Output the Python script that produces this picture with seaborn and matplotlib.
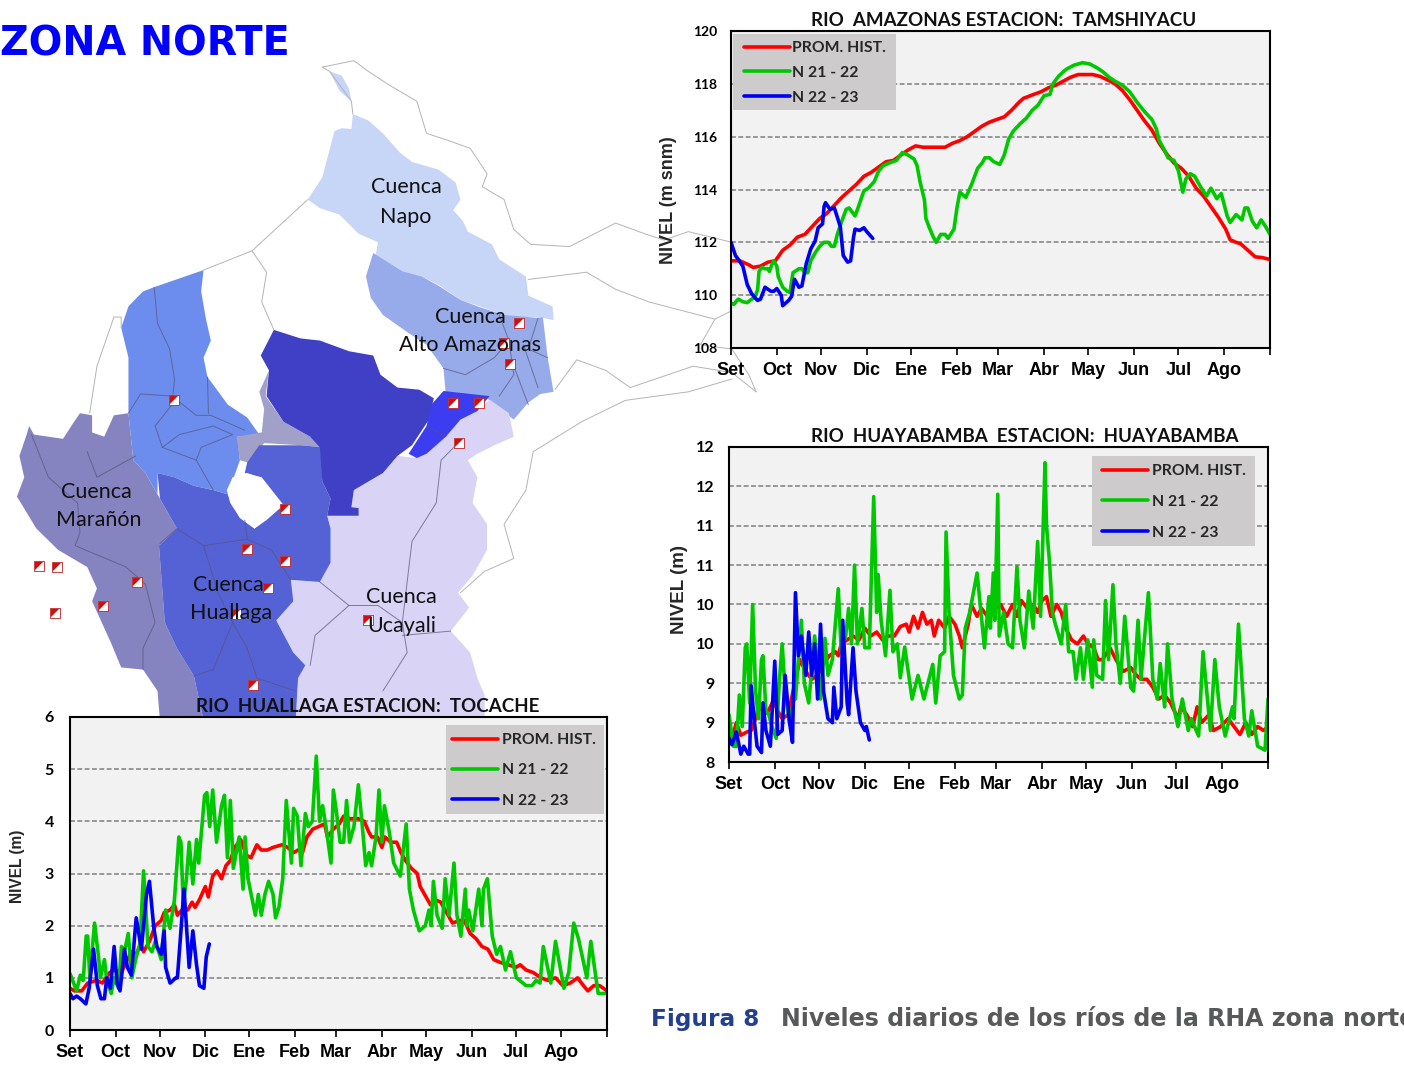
import matplotlib
matplotlib.use("Agg")
import matplotlib.pyplot as plt
from matplotlib.patches import Polygon, Rectangle
from matplotlib.lines import Line2D
import seaborn as sns

sns.set_style("white")
plt.rcParams['font.family'] = ['Liberation Sans', 'DejaVu Sans']

W, H = 1404, 1066
MONTH_LABELS = ['Set', 'Oct', 'Nov', 'Dic', 'Ene', 'Feb', 'Mar', 'Abr', 'May', 'Jun', 'Jul', 'Ago']
MONTH_DAYS = [0, 31, 61, 92, 122, 153, 181, 212, 242, 273, 303, 334, 365]
SERIES_NAMES = ['PROM. HIST.', 'N 21 - 22', 'N 22 - 23']
COLORS = ['#FF0000', '#00C800', '#0000F0']

# ---- Amazonas / Tamshiyacu
ama_red_d = [0,6,12,15,20,25,30,35,40,45,50,55,60,65,70,75,80,85,90,95,100,105,110,115,120,125,130,145,150,155,160,165,170,175,180,185,190,195,198,205,210,215,220,225,230,235,245,250,255,260,265,270,275,280,285,290,295,300,305,310,315,320,325,330,335,338,342,345,350,355,360,365]
ama_red_v = [111.3,111.3,111.15,111.05,111.1,111.25,111.3,111.7,111.9,112.2,112.3,112.6,112.9,113.1,113.4,113.7,113.95,114.2,114.5,114.65,114.85,115.05,115.1,115.3,115.5,115.65,115.6,115.6,115.75,115.85,116.0,116.2,116.4,116.55,116.65,116.75,117.0,117.3,117.45,117.6,117.7,117.85,117.95,118.1,118.25,118.35,118.35,118.28,118.15,118.0,117.75,117.4,117.0,116.6,116.25,115.75,115.35,115.0,114.8,114.5,114.05,113.75,113.35,112.95,112.5,112.1,112.0,111.95,111.7,111.45,111.42,111.35]
ama_grn_d = [0,2,4,5,8,11,14,16,18,19,21,23,25,26,28,29,31,32,35,38,40,41,42,46,48,50,52,54,57,60,63,66,68,70,72,75,78,80,84,86,90,93,97,100,103,107,112,116,120,124,126,128,131,132,134,137,139,142,145,147,151,153,155,157,159,163,167,170,172,175,178,182,185,188,191,196,200,204,208,212,216,218,222,227,232,238,243,248,252,256,260,265,270,275,280,285,288,290,293,296,300,303,306,308,311,314,318,322,325,329,332,336,338,342,346,348,350,353,356,359,362,365]
ama_grn_v = [109.7,109.65,109.8,109.85,109.75,109.72,109.85,109.9,110.2,110.9,111.05,111.0,111.0,110.9,111.2,111.3,111.1,110.7,110.3,110.15,110.1,110.5,110.85,111.0,111.0,110.85,110.85,111.3,111.6,111.85,112.0,112.0,111.85,111.85,112.3,112.8,113.25,113.3,113.0,113.3,113.95,114.05,114.3,114.7,114.9,115.0,115.1,115.4,115.3,115.15,114.9,114.3,113.6,112.9,112.6,112.2,112.0,112.3,112.3,112.15,112.5,113.3,113.9,113.8,113.7,114.2,114.8,115.0,115.2,115.2,115.05,114.95,115.3,115.9,116.2,116.5,116.7,117.0,117.2,117.55,117.6,118.0,118.3,118.55,118.7,118.8,118.75,118.6,118.45,118.25,118.1,117.95,117.7,117.3,116.95,116.65,116.3,115.85,115.55,115.2,115.1,114.7,113.9,114.4,114.6,114.5,114.1,113.75,114.05,113.65,113.85,113.0,112.75,113.05,112.85,113.3,113.3,112.8,112.55,112.85,112.6,112.3]
ama_blu_d = [0,3,5,8,11,14,18,20,23,27,29,31,34,35,39,41,43,46,48,51,54,57,59,62,63,64,67,70,74,76,79,81,83,84,87,90,92,96]
ama_blu_v = [112.0,111.5,111.35,111.1,110.4,110.05,109.8,109.85,110.3,110.15,110.15,110.25,110.0,109.6,109.8,109.95,110.6,110.3,110.35,111.2,111.75,112.05,112.55,112.7,113.35,113.5,113.25,113.3,112.6,111.5,111.25,111.3,112.2,112.5,112.45,112.55,112.4,112.15]

# ---- Huayabamba
hua_red_d = [0,2,5,8,12,15,18,20,23,26,30,33,36,40,44,48,52,56,60,64,68,72,74,76,80,84,88,92,96,100,104,108,112,116,120,122,125,128,131,134,137,139,142,146,149,153,156,158,162,164,168,171,175,180,184,188,192,195,198,202,206,209,212,215,218,222,225,228,232,236,240,243,247,250,253,258,262,267,272,276,279,283,287,291,295,299,304,306,310,314,317,320,325,328,333,338,342,346,350,354,358,362,365]
hua_red_v = [8.45,8.3,8.5,8.34,8.38,8.4,8.55,8.7,8.65,8.62,8.78,8.65,8.55,8.6,8.95,9.3,9.15,9.05,9.1,9.25,9.35,9.4,9.35,9.5,9.55,9.6,9.55,9.7,9.6,9.65,9.55,9.6,9.6,9.72,9.75,9.65,9.85,9.7,9.9,9.75,9.8,9.6,9.8,9.7,9.85,9.75,9.6,9.45,9.75,10.0,9.85,9.95,9.85,9.95,10.0,9.85,10.0,9.85,10.05,9.95,10.0,9.9,10.05,10.1,9.85,10.0,9.9,9.7,9.55,9.5,9.6,9.5,9.45,9.3,9.3,9.45,9.3,9.15,9.2,9.1,9.05,9.05,8.95,8.8,8.85,8.75,8.55,8.7,8.6,8.45,8.7,8.5,8.6,8.4,8.45,8.55,8.45,8.35,8.5,8.35,8.45,8.4,8.45]
hua_grn_d = [0,3,5,7,9,11,12,14,16,18,20,22,23,25,27,29,32,34,36,38,41,44,45,49,51,54,58,60,62,65,67,70,74,76,79,81,83,85,87,90,92,95,98,100,101,103,106,109,111,114,116,119,124,128,132,138,140,143,146,147,149,152,156,158,160,163,168,173,176,177,179,180,182,183,186,189,192,195,197,200,203,206,209,211,214,215,217,219,221,225,228,230,233,235,238,240,243,246,247,249,253,255,257,260,262,265,268,272,274,277,279,284,287,290,292,295,297,300,304,307,311,313,318,321,326,329,332,336,341,342,345,349,352,354,358,363,365]
hua_grn_v = [8.6,8.2,8.2,8.85,8.45,9.45,9.5,8.75,10.0,8.9,8.55,9.3,9.35,8.65,8.6,8.45,8.3,9.0,9.5,8.9,8.5,8.8,8.8,9.8,9.0,8.75,9.6,9.2,8.8,9.57,9.1,9.3,10.2,9.4,9.6,9.95,9.5,10.5,9.5,9.95,9.45,9.45,11.37,9.9,10.38,9.8,9.35,10.18,9.4,9.5,9.07,9.46,8.8,9.1,8.8,9.24,8.75,9.35,9.4,10.92,9.9,9.1,8.8,8.85,9.7,9.9,10.4,9.45,10.1,9.7,10.4,9.8,11.4,9.6,9.9,9.5,9.45,10.48,9.8,9.45,10.17,9.7,10.8,9.85,11.8,11.0,10.55,9.9,9.75,9.5,10.0,9.4,9.4,9.05,9.45,9.05,9.55,8.95,9.55,9.1,9.05,10.05,9.3,10.25,9.5,9.0,9.85,8.95,8.9,9.8,9.05,10.15,9.05,8.8,9.25,8.7,9.5,8.8,8.45,8.8,8.4,8.55,8.33,9.4,8.4,9.3,8.7,8.33,8.7,8.55,9.75,8.55,8.33,8.65,8.2,8.15,8.8]
hua_blu_d = [0,2,5,8,10,13,14,15,17,19,22,23,25,28,31,33,36,38,41,43,45,47,49,52,54,56,58,60,62,64,67,70,71,73,76,77,80,81,84,86,89,92,93,95]
hua_blu_v = [8.3,8.22,8.38,8.1,8.2,8.1,8.1,8.97,8.55,8.2,8.12,8.75,8.4,8.2,9.28,8.35,8.4,9.1,8.5,8.25,10.15,9.35,9.6,9.1,9.65,9.1,9.5,8.8,9.75,8.9,8.55,8.5,8.95,8.55,8.7,9.8,8.75,8.6,9.45,8.9,8.5,8.4,8.45,8.28]

# ---- Huallaga / Tocache
tcc_red_d = [0,3,8,12,18,22,27,30,35,38,42,45,48,50,54,58,62,64,68,71,73,76,80,83,85,88,92,94,97,100,103,106,109,112,116,120,123,127,130,134,138,144,148,152,155,158,161,165,169,173,175,179,183,186,190,196,200,203,205,209,212,214,218,222,225,228,232,236,238,242,245,248,252,256,260,265,268,272,276,280,284,288,292,298,303,306,310,315,320,325,330,335,340,345,349,352,356,360,365]
tcc_red_v = [0.8,0.75,0.75,0.9,0.95,0.9,1.1,1.15,1.1,1.3,1.5,1.45,1.65,1.5,1.7,2.0,2.1,2.25,2.3,2.4,2.2,2.3,2.3,2.45,2.35,2.5,2.75,2.55,2.95,3.05,2.9,3.15,3.25,3.5,3.65,3.35,3.3,3.55,3.45,3.45,3.5,3.55,3.5,3.4,3.45,3.4,3.7,3.85,3.9,3.95,3.7,3.85,3.95,4.1,4.05,4.05,4.0,3.8,3.7,3.7,3.5,3.7,3.6,3.6,3.4,3.25,3.1,3.0,2.75,2.55,2.4,2.5,2.45,2.25,2.05,2.1,2.1,1.85,1.75,1.6,1.55,1.35,1.3,1.25,1.2,1.25,1.15,1.1,1.0,0.95,1.0,0.85,0.9,1.0,0.85,0.75,0.85,0.85,0.75]
tcc_grn_d = [0,4.5,7,9,11,12,13.5,16.7,19.4,20.7,23.4,25,28,30,33,35,37,39.6,42,45,47.6,50,53,55.7,58,62,65,68,71,74,75.4,77,79,81,83.5,86,87.5,91.5,93,95,97,99.6,103,105,107,109,111,115,117.6,119,121,126,128,130,132.5,135,138,139.7,142,144.6,147,150.5,152,154.5,157,160,162,164.7,167.4,169.6,171.7,174,177.4,179,181,183.6,186,188,190,193,196,198.4,201,203.3,205,208,210,212,213.7,217,220,224.5,228.5,230.7,233.4,237.4,241.5,244,245.5,247,249.5,253,255,257.6,261,263,265.7,268.7,269.7,271,273.8,277.8,280,281,283.7,287,290,292.6,296,299.4,303.4,310,314,316.8,319.5,321.7,326.8,330,335.7,339,342.4,345.6,351.3,354,359,365]
tcc_grn_v = [1.08,0.75,1.05,0.95,1.8,1.8,1.0,2.05,1.4,1.0,1.35,0.95,0.7,1.0,0.8,1.6,1.5,1.85,1.0,1.4,1.65,3.05,1.6,1.5,1.7,1.35,2.3,1.95,2.5,3.7,3.6,2.4,2.85,3.6,2.8,3.65,3.2,4.5,4.55,3.9,4.6,3.6,4.3,4.5,3.3,4.4,3.1,3.7,2.7,3.7,2.9,2.2,2.6,2.2,2.6,2.85,2.6,2.15,2.35,2.9,4.4,3.2,4.25,4.1,3.15,4.15,3.9,4.0,5.25,4.0,4.3,3.9,3.2,4.6,4.2,3.6,3.6,4.4,3.6,3.9,4.7,4.0,3.15,3.4,3.15,3.7,4.6,3.6,4.3,3.8,3.2,2.95,3.95,2.7,2.3,1.9,2.0,2.3,2.0,2.85,2.2,1.95,2.9,2.2,3.2,2.2,1.8,2.7,2.0,2.3,1.9,2.7,2.0,2.7,2.9,1.8,1.45,1.6,1.15,1.5,1.0,0.85,0.85,0.95,0.9,1.6,0.9,1.7,0.8,1.1,2.05,1.75,1.0,1.7,0.7,0.7]
tcc_blu_d = [0,2,4.5,7,10.8,13,16,18.6,21,23.4,25,27.5,30,32,34,37,39,41.7,45,48.5,52,54,57,59,62,64,65,68,72,73,75.4,77.5,81,83.5,86,88,91,92.6,94.7]
tcc_blu_v = [0.7,0.6,0.65,0.6,0.5,0.8,1.55,0.85,0.6,0.6,1.0,0.8,1.6,0.9,0.75,1.55,1.2,1.05,2.15,1.55,2.6,2.85,1.95,1.6,1.45,1.9,1.2,0.9,1.0,1.0,1.9,2.7,1.2,1.9,1.25,0.85,0.8,1.4,1.65]

# ---- Map shapes, on a 1568 x 1568 grid covering the map area
napo = [(635,350),(665,298),(690,190),(705,183),(725,185),(728,150),(760,165),(790,195),(825,240),(850,262),(905,280),(940,310),(950,350),(935,375),(955,400),(965,425),(1015,455),(1030,490),(1085,530),(1090,575),(1140,600),(1142,632),(1110,625),(1070,625),(1040,620),(990,600),(950,585),(905,550),(870,530),(830,520),(775,480),(780,450),(740,430),(700,385),(660,370)]
napo_top = [(680,50),(705,60),(720,90),(725,120),(700,95)]
alto = [(770,475),(830,518),(870,530),(905,552),(950,585),(990,602),(1040,620),(1110,627),(1120,625),(1130,720),(1142,800),(1115,805),(1090,825),(1060,865),(1020,830),(1000,810),(920,810),(915,745),(880,690),(840,660),(790,620),(765,580),(755,530)]
central = [(565,655),(620,675),(660,680),(720,705),(770,715),(785,760),(820,790),(865,795),(895,815),(885,865),(850,925),(820,950),(790,990),(730,1030),(725,1070),(740,1072),(740,1090),(675,1090),(682,1050),(665,1010),(660,930),(640,905),(585,870),(550,810),(555,750),(538,715)]
bright = [(915,798),(1010,810),(985,845),(950,865),(920,905),(880,945),(860,955),(843,945),(880,880),(890,830)]
greyish = [(555,750),(548,810),(585,870),(640,905),(665,915),(668,930),(620,925),(545,920),(510,965),(495,960),(488,905),(540,895),(545,840),(535,800)]
ucayali = [(1010,818),(1050,850),(1060,905),(1020,925),(985,945),(965,960),(985,1000),(975,1060),(1005,1110),(1005,1170),(975,1230),(945,1270),(968,1305),(930,1360),(970,1410),(985,1470),(1000,1510),(1000,1568),(610,1568),(615,1470),(630,1440),(605,1410),(570,1335),(600,1290),(600,1240),(660,1245),(682,1200),(682,1120),(675,1090),(740,1090),(740,1072),(725,1070),(730,1030),(790,990),(820,950),(860,955),(880,945),(920,905),(950,865),(985,845)]
sky = [(318,555),(420,515),(415,565),(425,630),(435,680),(420,720),(428,765),(470,830),(510,860),(535,900),(490,905),(495,960),(470,1040),(440,1030),(400,1020),(360,1000),(325,990),(325,1040),(300,990),(275,960),(265,850),(265,790),(265,720),(250,650),(265,600),(295,565)]
huallaga = [(535,925),(620,925),(668,930),(665,1010),(682,1050),(675,1090),(682,1120),(682,1200),(660,1245),(600,1240),(605,1290),(570,1335),(605,1410),(630,1440),(615,1470),(610,1568),(420,1568),(400,1465),(365,1400),(340,1340),(328,1160),(365,1120),(330,1050),(325,990),(360,1000),(400,1020),(440,1030),(470,1040),(495,1095),(525,1120),(550,1100),(585,1065),(540,1000),(505,990),(510,965)]
hole = [(510,990),(535,1000),(555,1040),(585,1065),(550,1095),(525,1120),(495,1095),(475,1060),(468,1030),(480,1000)]
maranon = [(60,880),(70,900),(130,910),(150,875),(165,850),(190,855),(190,895),(215,905),(235,855),(265,850),(275,960),(300,990),(325,1040),(365,1120),(328,1160),(340,1340),(365,1400),(400,1465),(420,1568),(330,1568),(325,1500),(295,1450),(250,1445),(230,1390),(190,1290),(200,1260),(180,1210),(120,1170),(75,1120),(35,1045),(50,1000),(40,950),(55,900)]
MAP_FILLS = [(napo,'#C7D5F7'),(napo_top,'#C7D5F7'),(alto,'#97AAEA'),(ucayali,'#D9D3F5'),(sky,'#6D8DEE'),(greyish,'#A0A0C8'),(maranon,'#8583C0'),(huallaga,'#5562D5'),(central,'#3F40C5'),(bright,'#3C3CF0'),(hole,'#FFFFFF')]

outer_lines = [
    [(665,40),(730,25),(760,50),(800,80),(860,120),(880,195),(920,210),(970,230),(1005,290),(995,320),(1040,350),(1060,420),(1095,455),(1175,460),(1270,405),(1330,430),(1370,445),(1420,425),(1510,450)],
    [(665,40),(680,50),(725,120),(728,150)],
    [(1090,537),(1210,520),(1270,560),(1340,590),(1475,630),(1510,610)],
    [(1475,630),(1445,690),(1510,700),(1545,760),(1560,800)],
    [(1145,795),(1190,725),(1250,750),(1300,790),(1430,740),(1510,755),(1560,800)],
    [(950,1270),(1000,1220),(1060,1190),(1040,1110),(1085,1030),(1100,940),(1200,870),(1290,820),(1420,800),(1510,770)],
    [(635,350),(520,470),(420,515)],
    [(520,470),(550,520),(540,590),(565,655)],
    [(185,850),(200,740),(235,625),(250,625),(250,650)],
]
inner_lines = [
    [(318,555),(325,640),(350,700),(360,770),(355,830),(320,880),(335,930),(405,960),(440,1030)],
    [(265,850),(290,805),(355,810),(405,855),(435,855),(505,890)],
    [(428,765),(430,850)],
    [(335,930),(370,900),(440,880),(480,900),(415,930),(405,960)],
    [(65,900),(100,1000),(160,1060),(165,1130),(155,1160),(260,1210),(300,1250)],
    [(180,940),(200,1000),(280,950)],
    [(300,1250),(320,1340),(295,1400),(295,1450)],
    [(330,1155),(365,1120),(420,1160),(510,1145),(560,1170),(600,1240)],
    [(510,1145),(505,1100)],
    [(420,1160),(450,1270),(480,1340),(440,1450),(400,1465)],
    [(480,1340),(510,1400),(530,1470),(610,1500)],
    [(660,1245),(720,1300),(780,1300),(830,1340),(840,1410),(790,1500)],
    [(640,1440),(650,1370),(720,1300)],
    [(830,1340),(850,1150),(900,1060),(910,960),(945,920)],
    [(930,1360),(830,1370)],
    [(915,745),(960,760),(1020,720),(1050,680),(1030,620)],
    [(1050,680),(1060,760),(1030,810)],
    [(1060,740),(1090,830)],
    [(1080,690),(1110,790)],
    [(1110,627),(1090,700),(1130,720)],
    [(880,880),(920,905)],
]
STATIONS_X = [1070,1040,1052,935,988,946,360,588,509,587,552,487,760,523,283,212,80,118,114]
STATIONS_Y = [640,685,735,826,826,920,818,1075,1167,1195,1260,1320,1335,1485,1244,1302,1207,1210,1318]
MAP_LABELS = [(838,320,'Cuenca'),(838,390,'Napo'),(970,625,'Cuenca'),(970,690,'Alto Amazonas'),
              (198,1034,'Cuenca'),(204,1101,'Marañón'),(471,1252,'Cuenca'),(477,1317,'Huallaga'),
              (829,1279,'Cuenca'),(829,1347,'Ucayali')]

fig = plt.figure(figsize=(W/100, H/100), dpi=100, facecolor='white')

def px_axes(l, t, r, b, z):
    return fig.add_axes([l/W, 1-b/H, (r-l)/W, (b-t)/H], zorder=z)

# ---- map
m = px_axes(0, 50, 760, 720, 0)
m.set_xlim(0, 1568); m.set_ylim(1568, 0); m.axis('off')
for shape, col in MAP_FILLS:
    m.add_patch(Polygon(shape, closed=True, facecolor=col, edgecolor='none', zorder=1))
for ln in outer_lines:
    m.plot(*zip(*ln), color='#B4B4B4', lw=0.7, zorder=2)
for ln in inner_lines:
    m.plot(*zip(*ln), color='#555577', lw=0.7, alpha=0.7, zorder=2)
m.scatter(STATIONS_X, STATIONS_Y, marker='s', s=42, c='white', edgecolors='#C02020', linewidths=0.6, zorder=3)
m.scatter(STATIONS_X, STATIONS_Y, marker=[(-1,-1),(-1,1),(1,1)], s=30, c='#D01010', linewidths=0, zorder=4)
for x, y, s in MAP_LABELS:
    m.text(x, y, s, ha='center', va='center', fontsize=15.5, family=['Lato', 'DejaVu Sans'], color='#111111', zorder=5)

LEG_FONT = {'family': ['Lato', 'DejaVu Sans'], 'weight': 'bold', 'size': 11.3}

# ---- charts
def chart(box, ylim, yticks, ylabels, title, title_y, title_x, series, ylab, ylab_x, ylab_y, ylab_size,
          tick_size, ypad, leg_box, leg_x, leg_y, leg_step, leg_gap):
    ax = px_axes(*box, 2)
    ax.set_facecolor('#F2F2F2')
    ax.add_patch(Rectangle((leg_box[0]/W, 1-leg_box[3]/H), (leg_box[2]-leg_box[0])/W, (leg_box[3]-leg_box[1])/H,
                           transform=fig.transFigure, facecolor='#CDCBCB', edgecolor='none', zorder=1.5, clip_on=False))
    for (d, v), col in zip(series, COLORS):
        sns.lineplot(x=d, y=v, color=col, lw=2.6, ax=ax, estimator=None, sort=False, legend=False)
    ax.set_xlim(0, 365); ax.set_ylim(*ylim)
    ax.set_yticks(yticks, ylabels, fontsize=tick_size, fontweight='bold', family=['Lato', 'DejaVu Sans'])
    ax.set_xticks(MONTH_DAYS[:-1] + [365], MONTH_LABELS + [''], fontsize=13, fontweight='bold')
    ax.tick_params(axis='y', length=0, pad=ypad, colors='black')
    ax.tick_params(axis='x', length=5, width=1.2, direction='out', bottom=True, pad=5.2, colors='black')
    ax.grid(axis='y', color='#7F7F7F', ls=(0, (3.2, 1.6)), lw=1.1)
    ax.set_axisbelow(True)
    for s in ax.spines.values():
        s.set_color('black'); s.set_linewidth(1.5); s.set_visible(True)
    ax.set_ylabel(ylab, fontsize=ylab_size, fontweight='bold')
    ax.yaxis.set_label_coords((ylab_x - box[0]) / (box[2]-box[0]), (box[3]-ylab_y)/(box[3]-box[1]))
    fig.text(title_x/W, 1-title_y/H, title, ha='center', va='center',
             fontsize=13.5, fontweight='bold', family=['Lato', 'DejaVu Sans'], zorder=10, color='#111111')
    handles = [Line2D([], [], color=c, lw=2.6) for c in COLORS]
    row_h = 14.2
    ls = (leg_step - row_h) / (11.3 * 100 / 72)
    lg = ax.legend(handles, SERIES_NAMES, loc='upper left', bbox_to_anchor=(leg_x/W, 1-(leg_y-5)/H),
                   bbox_transform=fig.transFigure, frameon=False, borderaxespad=0, borderpad=0,
                   handlelength=2.95, handletextpad=leg_gap, labelspacing=ls, prop=LEG_FONT)
    lg.set_zorder(6)
    return ax

chart((731, 31, 1270, 348), (108, 120), [108,110,112,114,116,118,120], ['108','110','112','114','116','118','120'],
      'RIO  AMAZONAS ESTACION:  TAMSHIYACU', 21, 1004,
      [(ama_red_d, ama_red_v), (ama_grn_d, ama_grn_v), (ama_blu_d, ama_blu_v)],
      'NIVEL (m snm)', 677, 200, 13, 10, 10,
      (733, 34, 896, 110), 744, 46, 25, 0.13)
chart((729, 447, 1268, 762), (8, 12), [8,8.5,9,9.5,10,10.5,11,11.5,12], ['8','9','9','10','10','11','11','12','12'],
      'RIO  HUAYABAMBA  ESTACION:  HUAYABAMBA', 437, 1024.5,
      [(hua_red_d, hua_red_v), (hua_grn_d, hua_grn_v), (hua_blu_d, hua_blu_v)],
      'NIVEL (m)', 688, 590, 13.5, 11.5, 10.5,
      (1092, 456, 1255, 546), 1102, 469, 31, 0.26)
chart((70, 717, 607, 1030), (0, 6), [0,1,2,3,4,5,6], ['0','1','2','3','4','5','6'],
      'RIO  HUALLAGA ESTACION:  TOCACHE', 706, 368,
      [(tcc_red_d, tcc_red_v), (tcc_grn_d, tcc_grn_v), (tcc_blu_d, tcc_blu_v)],
      'NIVEL (m)', 25, 866, 11.2, 11.5, 11.5,
      (446, 725, 604, 814), 452, 738, 30.5, 0.26)

# ---- page text
fig.text(0/W, 1-56/H, 'ZONA NORTE', fontsize=28.5, fontweight='bold', color='#0000FF', va='baseline', ha='left',
         family=['DejaVu Sans'], zorder=11)
fig.text(651/W, 1-1026/H, 'Figura 8', fontsize=16.7, fontweight='bold', color='#23408F', va='baseline', ha='left',
         family=['DejaVu Sans'], zorder=11)
fig.text(781/W, 1-1026/H, 'Niveles diarios de los ríos de la RHA zona norte', fontsize=17.1, fontweight='bold',
         color='#58595B', va='baseline', ha='left', family=['DejaVu Sans'], zorder=11)

fig.savefig('out.png', dpi=100)
